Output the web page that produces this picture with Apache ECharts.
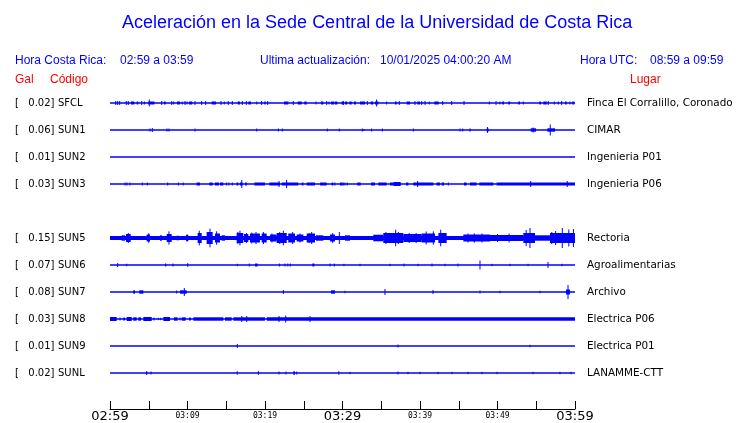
<!DOCTYPE html>
<html><head><meta charset="utf-8">
<script src="https://cdn.jsdelivr.net/npm/echarts/dist/echarts.min.js"></script>
<style>html,body{margin:0;padding:0;background:#fff}#c{width:740px;height:423px}</style>
</head><body><div id="c"></div>
<script>
// ---- data ----
const stationCodes = ['SFCL','SUN1','SUN2','SUN3','SUN5','SUN6','SUN7','SUN8','SUN9','SUNL'];
const stationGal = ['0.02','0.06','0.01','0.03','0.15','0.07','0.08','0.03','0.01','0.02'];
const stationPlaces = ['Finca El Corralillo, Coronado','CIMAR','Ingenieria P01','Ingenieria P06','Rectoria','Agroalimentarias','Archivo','Electrica P06','Electrica P01','LANAMME-CTT'];
const stationSlots = [0,1,2,3,5,6,7,8,9,10]; // SUN4 missing
const tickLabels = ['02:59','03:09','03:19','03:29','03:39','03:49','03:59'];
const majorTickLabels = ['02:59','03:29','03:59'];
const titleText = 'Aceleración en la Sede Central de la Universidad de Costa Rica';
const headerCR = ['Hora Costa Rica:', '02:59 a 03:59'];
const headerUpd = ['Ultima actualización:', '10/01/2025 04:00:20 AM'];
const headerUTC = ['Hora UTC:', '08:59 a 09:59'];

// events: minutes after 02:59; blocks [t0, t1, amplitude], spikes [t, amplitude]
const blocksSFCL = [[2.71,3.14,1.5],[3.45,3.65,1.5],[4.94,5.72,1.5],[6.97,7.19,1.5],[8.65,9.03,1.5],[10.19,10.62,1.5],[13.12,13.68,1.5],[16.48,16.77,1.5],[17.85,18.19,1.5],[19.91,20.09,1.5],[22.45,23.01,1.5],[24.22,24.74,1.5],[25.07,25.38,1.5],[27.23,27.52,1.5],[28.52,28.94,1.5],[29.03,29.33,1.5],[29.9,30.19,1.5],[30.32,30.62,1.5],[30.88,31.19,1.5],[31.48,31.74,1.5],[32.26,32.9,1.5],[33.64,33.97,1.5],[34.19,34.62,1.5],[36.77,36.99,1.5],[38.28,38.71,1.5],[39.65,40.0,1.5],[41.85,42.41,1.5],[50.62,50.84,1.5],[51.39,51.61,1.5],[52.68,52.9,1.5],[55.39,55.61,1.5],[55.91,56.35,1.5],[58.71,58.93,1.5],[59.65,59.91,1.5]];
const spikesSFCL = [[0.74,2],[0.99,2],[1.25,2],[2.1,2],[2.36,2],[4.09,2],[4.43,1.5],[5.07,3.5],[6.67,2],[7.96,2],[8.22,1.5],[9.33,1.5],[9.68,2],[9.94,1.5],[10.97,2],[11.83,2],[12.35,2],[14.32,2],[14.75,1.5],[15.26,2],[15.78,2],[17.07,2],[17.59,2],[18.93,1.5],[19.57,2],[20.35,2],[23.65,2],[26.58,1.5],[27.96,2],[28.26,1.5],[30.1,2],[33.2,2],[34.4,3.5],[35.7,1.5],[37.33,2],[39.35,2],[40.22,2],[40.65,2],[41.2,1.5],[42.93,2],[44.09,2],[45.68,2],[48.94,1.5],[49.81,2],[50.32,1.5],[53.33,1.5],[56.55,2],[57.33,1.5],[57.85,1.5],[58.28,2],[59.35,1.5]];

const blocksSUN1 = [[46.37,46.54,1.5],[48.61,48.86,1.5],[54.28,54.97,1.7],[56.43,57.42,1.7]];
const spikesSUN1 = [[5.16,1.5],[5.46,2],[7.35,1.5],[7.61,1.5],[10.97,1.5],[18.93,1.5],[21.72,1.5],[22.23,1.5],[28.04,1.5],[29.59,1.5],[32.55,1.5],[32.77,1],[33.76,1.5],[35.14,1.5],[39.14,1.5],[45.16,1.5],[45.51,1.5],[48.7,3],[54.6,2.5],[56.81,5.5]];

const blocksSUN2 = [];
const spikesSUN2 = [];

const blocksSUN3 = [[11.18,11.61,1.5],[12.82,13.25,1.5],[13.55,14.06,1.5],[14.19,14.62,1.5],[16.34,16.56,1.5],[16.77,17.12,1.5],[17.42,17.64,1.5],[18.63,20.0,1.5],[20.56,21.94,1.5],[22.15,24.3,1.5],[24.73,24.95,1.5],[25.38,26.45,1.5],[27.1,27.96,1.5],[28.6,28.82,1.5],[29.68,30.02,1.5],[31.91,32.35,1.5],[33.68,34.19,1.5],[34.62,35.7,1.5],[36.13,36.56,1.5],[36.56,37.51,2],[38.19,38.49,1.5],[39.14,41.72,1.5],[42.15,42.58,1.5],[42.8,43.1,1.5],[45.68,46.02,1.5],[46.45,47.31,1.5],[47.65,49.46,1.5],[49.89,60,1.5]];
const spikesSUN3 = [[1.94,1.5],[2.19,1.5],[2.58,1.5],[4.17,1.5],[4.82,1.5],[7.44,1.5],[8.82,1.5],[9.46,1.5],[15.05,1.5],[15.35,1.5],[15.78,1.5],[17.0,4],[21.81,3],[22.79,4],[29.03,1.5],[30.1,1.5],[30.32,1.5],[30.62,1.5],[39.7,3],[43.65,1.5],[54.28,3],[59.0,3]];

const blocksSUN5 = [[0,60,2],[1.5,1.94,2.7],[2.06,2.67,4],[4.73,5.16,3.5],[6.45,6.71,2.7],[7.31,7.96,4],[8.6,8.86,2.3],[9.81,10.11,3.3],[11.31,11.83,5],[12.47,13.25,6],[13.55,14.19,4.5],[14.41,14.84,2.7],[16.34,17.2,5],[17.29,17.85,4],[18.06,19.35,4.5],[19.57,20.22,4.5],[20.65,21.5,3.5],[21.5,22.8,5],[23.0,23.87,4.5],[24.09,24.95,3.5],[25.38,26.45,4.5],[26.58,27.52,2.7],[28.39,29.03,3.5],[30.32,30.97,2.7],[33.97,35.26,3.3],[35.26,37.85,5],[37.85,40.22,4],[40.22,41.94,4.5],[42.37,43.44,5],[45.59,49.03,3.5],[49.03,53.33,3],[53.33,54.84,5],[54.84,56.77,2.7],[56.77,60,5]];
const spikesSUN5 = [[2.36,5],[5.0,4.7],[7.61,6.7],[11.52,7.3],[12.9,9.3],[13.76,6.7],[16.5,6],[16.77,7.3],[17.6,5],[18.3,5.5],[18.84,6],[19.8,6],[20.9,4.5],[21.9,6],[22.37,7.3],[23.57,6],[24.5,4.5],[25.7,5],[26.02,6],[28.73,5],[29.59,6],[35.6,6],[36.86,8.3],[37.2,6],[38.6,5],[39.5,5],[40.8,6.5],[41.72,6.7],[42.67,8.3],[46.2,4.5],[47.0,4.7],[48.0,4.5],[50.0,4],[51.5,4.5],[53.7,8],[54.19,10],[57.0,6],[57.5,7],[58.36,10],[59.2,8.5],[59.8,9]];

const blocksSUN6 = [[2.1,2.2,1.3],[7.1,7.25,1.5],[9.95,10.1,1.7],[18.71,19.05,1.5],[22.88,23.01,1.5],[26.11,26.37,1.5]];
const spikesSUN6 = [[0.99,2],[8.13,1.5],[16.43,1.2],[17.97,1.5],[21.85,1.5],[22.58,1.5],[23.27,1.5],[28.39,1.5],[28.94,1.5],[30.19,1.2],[32.26,1.2],[36.13,1.2],[37.94,1.5],[39.74,1.2],[41.55,1.5],[43.23,1.2],[44.9,1.5],[47.74,4.5],[49.29,1.2],[51.61,1.2],[53.94,1.2],[56.52,3],[58.32,1.2]];

const blocksSUN7 = [[3.0,3.23,1.7],[3.78,4.3,1.7],[9.03,9.9,1.7],[28.52,29.03,1.7],[58.84,59.35,2.5]];
const spikesSUN7 = [[8.6,1.5],[9.59,4],[22.37,2],[30.32,1.2],[35.48,3],[41.68,2],[47.74,1.5],[50.32,1.2],[55.48,1.2],[59.1,7]];

const blocksSUN8 = [[0,0.86,2],[1.72,1.94,1.5],[2.15,2.8,2],[3.0,3.44,1.7],[3.66,4.0,1.7],[4.3,5.38,2],[6.88,7.74,2],[8.26,8.73,1.7],[9.25,9.77,1.7],[10.19,10.45,1.5],[10.75,14.62,1.7],[14.84,15.7,1.7],[15.91,20.0,1.7],[20.22,60,1.7]];
const spikesSUN8 = [[1.29,1.5],[5.68,1.5],[6.24,1.2],[6.54,1.2],[9.03,1.5],[17.0,3],[17.64,3],[21.81,3],[22.67,3.5],[25.81,3]];

const blocksSUN9 = [];
const spikesSUN9 = [[16.43,2],[37.16,1.5],[54.19,1.2]];

const blocksSUNL = [[4.65,4.82,1.7],[16.35,16.48,1.7],[23.65,23.87,1.7],[29.46,29.59,1.7]];
const spikesSUNL = [[5.29,1.5],[19.14,2],[21.81,1.5],[22.71,1.5],[24.09,1.5],[30.97,1.2],[37.16,1.5],[38.45,1.2],[40.0,1.2],[42.32,1.2],[44.13,1.2],[46.19,1.2],[48.0,1.2],[49.94,1.2],[54.58,1.2],[58.06,1.2],[59.48,1.2]];

const stationBlocks = [blocksSFCL,blocksSUN1,blocksSUN2,blocksSUN3,blocksSUN5,blocksSUN6,blocksSUN7,blocksSUN8,blocksSUN9,blocksSUNL];
const stationSpikes = [spikesSFCL,spikesSUN1,spikesSUN2,spikesSUN3,spikesSUN5,spikesSUN6,spikesSUN7,spikesSUN8,spikesSUN9,spikesSUNL];

// ---- drawing ----
const BLUE = '#0000ff';
const AMP_SCALE = 27; // amplitude units per row spacing
const items = [];
stationCodes.forEach((c, i) => {
  const s = stationSlots[i];
  items.push([s, 0, 60, 0, 0]);
  stationBlocks[i].forEach(b => items.push([s, b[0], b[1], b[2], 1]));
  stationSpikes[i].forEach(p => items.push([s, p[0], p[0], p[1], 2]));
});

function renderItem(params, api) {
  const slot = api.value(0), t0 = api.value(1), t1 = api.value(2), amp = api.value(3), kind = api.value(4);
  const a = amp / AMP_SCALE;
  if (kind === 0) {
    const p0 = api.coord([t0, slot]), p1 = api.coord([t1, slot]);
    return {type:'line', shape:{x1:p0[0], y1:p0[1], x2:p1[0], y2:p1[1]}, style:{stroke:BLUE, lineWidth:1.3}};
  }
  const pa = api.coord([t0, slot - a]), pb = api.coord([t1, slot + a]);
  const y0 = Math.min(pa[1], pb[1]), y1 = Math.max(pa[1], pb[1]);
  if (kind === 2) {
    return {type:'line', shape:{x1:pa[0], y1:y0, x2:pa[0], y2:y1}, style:{stroke:BLUE, lineWidth:1}};
  }
  const w = Math.max(1, pb[0] - pa[0]);
  return {type:'rect', shape:{x:pa[0], y:y0, width:w, height:y1 - y0}, style:{fill:BLUE}};
}

const chart = echarts.init(document.getElementById('c'), null, {renderer:'canvas'});
const option = {
  animation:false,
  backgroundColor:'#fff',
  title:{text:titleText, left:117, top:9, textStyle:{color:BLUE, fontSize:18, fontWeight:'normal', fontFamily:'Liberation Sans'}},
  grid:{left:110, right:165, top:76, bottom:14},
  xAxis:{type:'value', min:0, max:60, interval:5,
    axisLine:{show:true, onZero:false, lineStyle:{color:'#000', width:1}},
    axisTick:{show:true, inside:true, length:8, lineStyle:{color:'#000'}},
    splitLine:{show:false},
    axisLabel:{margin:1, color:'#000',
      formatter: v => { if (v % 10) return ''; const s = tickLabels[v/10]; return majorTickLabels.includes(s) ? '{big|'+s+'}' : '{small|'+s+'}'; },
      rich:{big:{fontSize:13, fontFamily:'DejaVu Sans', color:'#000'}, small:{fontSize:8, fontFamily:'DejaVu Sans Mono', color:'#000', padding:[2,0,0,0]}}}},
  yAxis:{type:'value', inverse:true, min:-1, max:11.333, show:false},
  series:[{type:'custom', renderItem, data:items, clip:false}]
};
chart.setOption(option);

const g = [];
const hdrFont = '12px "Liberation Sans"';
function txt(x, y, s, fill, font, align) {
  g.push({type:'text', x, y, style:{text:s, fill, font, align:align||'left', verticalAlign:'middle'}});
}
txt(15, 61, headerCR[0], BLUE, hdrFont); txt(120, 61, headerCR[1], BLUE, hdrFont);
txt(260, 61, headerUpd[0], BLUE, hdrFont); txt(380, 61, headerUpd[1], BLUE, hdrFont);
txt(580, 61, headerUTC[0], BLUE, hdrFont); txt(650, 61, headerUTC[1], BLUE, hdrFont);
txt(15, 80, 'Gal', '#ff0000', hdrFont); txt(50, 80, 'Código', '#ff0000', hdrFont); txt(630, 80, 'Lugar', '#ff0000', hdrFont);
const lblFont = '10px "DejaVu Sans"';
const placeFont = '10.4px "DejaVu Sans"';
stationCodes.forEach((c, i) => {
  const y = chart.convertToPixel({gridIndex:0}, [0, stationSlots[i]])[1];
  txt(15, y, '[', '#000', lblFont);
  txt(54.5, y, stationGal[i] + ']', '#000', lblFont, 'right');
  txt(58, y, c, '#000', lblFont);
  txt(587, y, stationPlaces[i], '#000', placeFont);
});
chart.setOption({graphic:g});
</script></body></html>
